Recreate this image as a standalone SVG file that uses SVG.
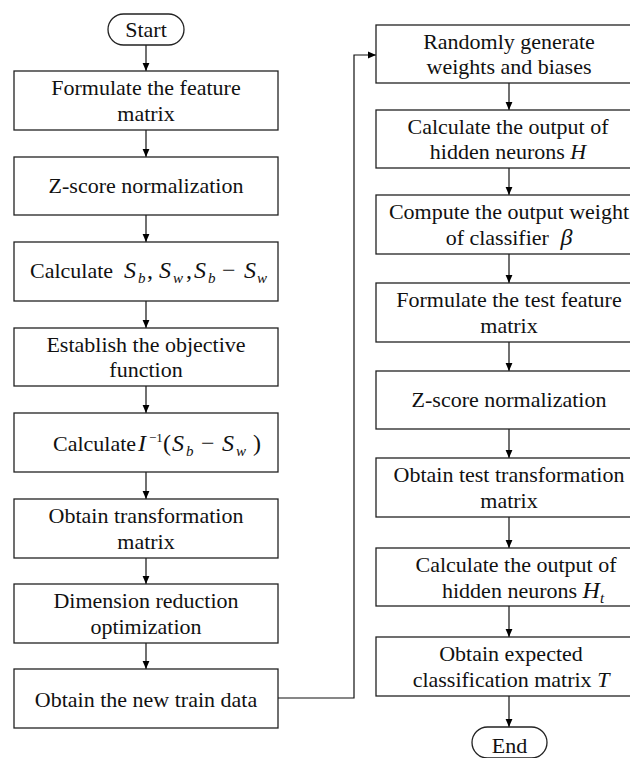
<svg xmlns="http://www.w3.org/2000/svg" width="630" height="758" viewBox="0 0 630 758">
  <defs>
    <marker id="arrow" markerUnits="userSpaceOnUse" markerWidth="8" markerHeight="10" refX="8" refY="4" orient="auto">
      <path d="M0,0.6 L8,4 L0,7.4 z" fill="#000"/>
    </marker>
    <style>
      rect { fill: #fff; stroke: #222; stroke-width: 1.3; }
      .t { font-family: "Liberation Serif", "Times New Roman", serif; font-size: 22px; fill: #111; }
      .c { text-anchor: middle; }
      .mi { font-style: italic; font-size: 24px; }
      .sub { font-style: italic; font-size: 15px; }
      .mr { font-size: 24px; }
      .sup { font-size: 13px; }
      #edges path, #edges line { fill: none; stroke: #111; stroke-width: 1.2; }
    </style>
  </defs>

  <!-- connectors -->
  <g id="edges">
    <line x1="146" y1="45" x2="146" y2="71" marker-end="url(#arrow)"/>
    <line x1="146" y1="130" x2="146" y2="157" marker-end="url(#arrow)"/>
    <line x1="146" y1="215" x2="146" y2="242" marker-end="url(#arrow)"/>
    <line x1="146" y1="301" x2="146" y2="328" marker-end="url(#arrow)"/>
    <line x1="146" y1="386" x2="146" y2="413" marker-end="url(#arrow)"/>
    <line x1="146" y1="472" x2="146" y2="499" marker-end="url(#arrow)"/>
    <line x1="146" y1="558" x2="146" y2="584" marker-end="url(#arrow)"/>
    <line x1="146" y1="643" x2="146" y2="669" marker-end="url(#arrow)"/>
    <path d="M278,698 H354 V55 H376" marker-end="url(#arrow)"/>
    <line x1="509" y1="83" x2="509" y2="110" marker-end="url(#arrow)"/>
    <line x1="509" y1="168" x2="509" y2="195" marker-end="url(#arrow)"/>
    <line x1="509" y1="254" x2="509" y2="283" marker-end="url(#arrow)"/>
    <line x1="509" y1="342" x2="509" y2="371" marker-end="url(#arrow)"/>
    <line x1="509" y1="429" x2="509" y2="458" marker-end="url(#arrow)"/>
    <line x1="509" y1="517" x2="509" y2="548" marker-end="url(#arrow)"/>
    <line x1="509" y1="606" x2="509" y2="637" marker-end="url(#arrow)"/>
    <line x1="509" y1="696" x2="509" y2="727" marker-end="url(#arrow)"/>
  </g>

  <!-- left column: training -->
  <g id="start">
    <rect x="108" y="14" width="76" height="31" rx="15.5"/>
    <text class="t c" x="146" y="37">Start</text>
  </g>
  <g id="feature-matrix">
    <rect x="14" y="71" width="264" height="59"/>
    <text class="t c" x="146" y="95">Formulate the feature</text>
    <text class="t c" x="146" y="121">matrix</text>
  </g>
  <g id="zscore">
    <rect x="14" y="157" width="264" height="58"/>
    <text class="t c" x="146" y="193">Z-score normalization</text>
  </g>
  <g id="scatter">
    <rect x="14" y="242" width="264" height="59"/>
    <text class="t" x="30" y="278">Calculate<tspan class="mi" x="124">S</tspan><tspan class="sub" x="138" dy="5">b</tspan><tspan class="mr" x="147" dy="-5">,</tspan><tspan class="mi" x="159">S</tspan><tspan class="sub" x="173" dy="5">w</tspan><tspan class="mr" x="186" dy="-5">,</tspan><tspan class="mi" x="194">S</tspan><tspan class="sub" x="208" dy="5">b</tspan><tspan class="mr" x="222" dy="-5">−</tspan><tspan class="mi" x="244">S</tspan><tspan class="sub" x="257" dy="5">w</tspan></text>
  </g>
  <g id="objective">
    <rect x="14" y="328" width="264" height="58"/>
    <text class="t c" x="146" y="352">Establish the objective</text>
    <text class="t c" x="146" y="377">function</text>
  </g>
  <g id="inverse">
    <rect x="14" y="413" width="264" height="59"/>
    <text class="t" x="53" y="451">Calculate<tspan class="mi" x="138">I</tspan><tspan class="sup" x="149" dy="-9">−1</tspan><tspan class="mr" x="163" dy="9">(</tspan><tspan class="mi" x="172">S</tspan><tspan class="sub" x="186" dy="5">b</tspan><tspan class="mr" x="201" dy="-5">−</tspan><tspan class="mi" x="222">S</tspan><tspan class="sub" x="236" dy="5">w</tspan><tspan class="mr" x="253" dy="-5">)</tspan></text>
  </g>
  <g id="transform">
    <rect x="14" y="499" width="264" height="59"/>
    <text class="t c" x="146" y="523">Obtain transformation</text>
    <text class="t c" x="146" y="549">matrix</text>
  </g>
  <g id="reduction">
    <rect x="14" y="584" width="264" height="59"/>
    <text class="t c" x="146" y="608">Dimension reduction</text>
    <text class="t c" x="146" y="634">optimization</text>
  </g>
  <g id="train-data">
    <rect x="14" y="669" width="264" height="59"/>
    <text class="t c" x="146" y="707">Obtain the new train data</text>
  </g>

  <!-- right column: classifier -->
  <g id="random-weights">
    <rect x="376" y="25" width="266" height="58"/>
    <text class="t c" x="509" y="49">Randomly generate</text>
    <text class="t c" x="509" y="74">weights and biases</text>
  </g>
  <g id="hidden-output">
    <rect x="376" y="110" width="266" height="58"/>
    <text class="t c" x="508" y="134">Calculate the output of</text>
    <text class="t c" x="508" y="159">hidden neurons <tspan font-style="italic">H</tspan></text>
  </g>
  <g id="output-weight">
    <rect x="376" y="195" width="266" height="59"/>
    <text class="t c" x="509" y="219">Compute the output weight</text>
    <text class="t c" x="509" y="245">of classifier <tspan class="mi" dx="6">β</tspan></text>
  </g>
  <g id="test-feature">
    <rect x="376" y="283" width="266" height="59"/>
    <text class="t c" x="509" y="307">Formulate the test feature</text>
    <text class="t c" x="509" y="333">matrix</text>
  </g>
  <g id="test-zscore">
    <rect x="376" y="371" width="266" height="58"/>
    <text class="t c" x="509" y="407">Z-score normalization</text>
  </g>
  <g id="test-transform">
    <rect x="376" y="458" width="266" height="59"/>
    <text class="t c" x="509" y="482">Obtain test transformation</text>
    <text class="t c" x="509" y="508">matrix</text>
  </g>
  <g id="test-hidden">
    <rect x="376" y="548" width="266" height="58"/>
    <text class="t c" x="516" y="572">Calculate the output of</text>
    <text class="t" x="442" y="598">hidden neurons <tspan class="mi">H</tspan><tspan class="sub" dy="5">t</tspan></text>
  </g>
  <g id="classification">
    <rect x="376" y="637" width="266" height="59"/>
    <text class="t c" x="511" y="661">Obtain expected</text>
    <text class="t c" x="511" y="687">classification matrix <tspan font-style="italic">T</tspan></text>
  </g>
  <g id="end">
    <rect x="472" y="727" width="75" height="31" rx="15.5"/>
    <text class="t c" x="509.5" y="753">End</text>
  </g>
</svg>
